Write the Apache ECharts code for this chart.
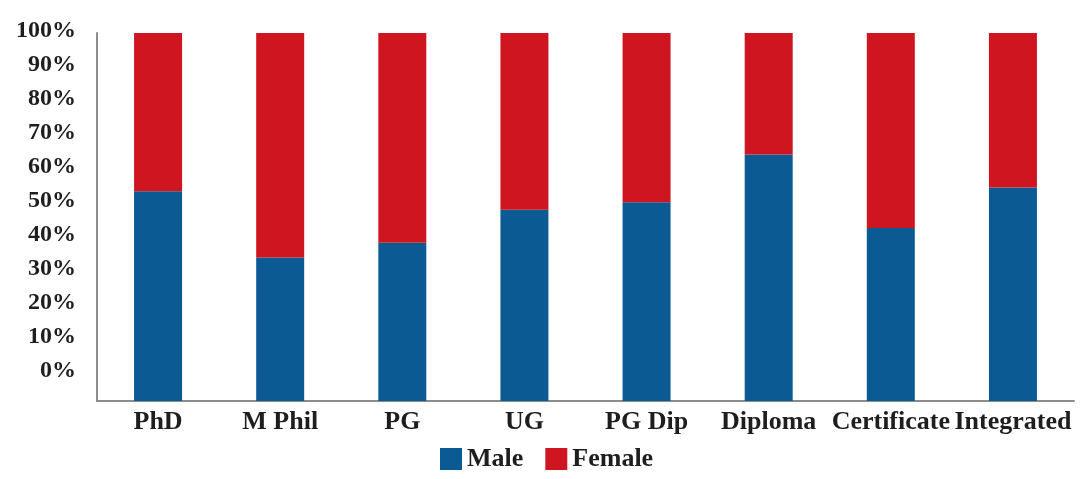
<!DOCTYPE html>
<html>
<head>
<meta charset="utf-8">
<script src="https://cdn.jsdelivr.net/npm/echarts@6/dist/echarts.min.js"></script>
<style>
  html, body { margin: 0; padding: 0; background: #ffffff; }
  #chart { width: 1085px; height: 479px; }
</style>
</head>
<body>
<div id="chart"></div>
<script>
// Gender split by programme level (share of enrolment, %)
const categories = ['PhD', 'M Phil', 'PG', 'UG', 'PG Dip', 'Diploma', 'Certificate', 'Integrated'];
const maleShare = [57, 39, 43, 52, 54, 67, 47, 58];
const femaleShare = [43, 61, 57, 48, 46, 33, 53, 42];
const tickLabels = ['', '0%', '10%', '20%', '30%', '40%', '50%', '60%', '70%', '80%', '90%', '100%'];

const FONT = '"Liberation Serif", "DejaVu Serif", serif';
const TEXT = '#1e1e1e';
const AXIS = '#8c8c8c';

const chart = echarts.init(document.getElementById('chart'), null, { renderer: 'canvas' });

chart.setOption({
  animation: false,
  backgroundColor: '#ffffff',
  textStyle: { fontFamily: FONT },
  grid: [
    // percentage tick column
    { left: 97, right: 11, top: 31, bottom: 74 },
    // stacked bars
    { left: 97, right: 11, top: 33, bottom: 78 }
  ],
  legend: {
    left: 435,
    top: 441,
    itemWidth: 22,
    itemHeight: 22,
    itemGap: 22,
    icon: 'rect',
    textStyle: { fontFamily: FONT, fontSize: 26, fontWeight: 'bold', color: TEXT },
    data: ['Male', 'Female']
  },
  xAxis: [
    { type: 'category', gridIndex: 0, data: categories, show: false },
    {
      type: 'category',
      gridIndex: 1,
      data: categories,
      axisLine: { show: true, lineStyle: { color: AXIS, width: 2 } },
      axisTick: { show: false },
      axisLabel: {
        interval: 0,
        margin: 8,
        fontFamily: FONT,
        fontSize: 26,
        fontWeight: 'bold',
        color: TEXT
      }
    }
  ],
  yAxis: [
    {
      type: 'value',
      gridIndex: 0,
      min: 0,
      max: 110,
      interval: 10,
      axisLine: { show: false },
      axisTick: { show: false },
      splitLine: { show: false },
      axisLabel: {
        margin: 21,
        fontFamily: FONT,
        fontSize: 24,
        fontWeight: 'bold',
        color: TEXT,
        formatter: function (v) { return tickLabels[Math.round(v / 10)]; }
      }
    },
    {
      type: 'value',
      gridIndex: 1,
      min: 0,
      max: 100,
      axisLine: { show: true, lineStyle: { color: AXIS, width: 2 } },
      axisTick: { show: false },
      splitLine: { show: false },
      axisLabel: { show: false }
    }
  ],
  series: [
    {
      name: 'Male',
      type: 'bar',
      stack: 'share',
      xAxisIndex: 1,
      yAxisIndex: 1,
      barWidth: 48,
      itemStyle: { color: '#0c5a93' },
      data: maleShare
    },
    {
      name: 'Female',
      type: 'bar',
      stack: 'share',
      xAxisIndex: 1,
      yAxisIndex: 1,
      barWidth: 48,
      itemStyle: { color: '#cf1520' },
      data: femaleShare
    }
  ]
});
</script>
</body>
</html>
